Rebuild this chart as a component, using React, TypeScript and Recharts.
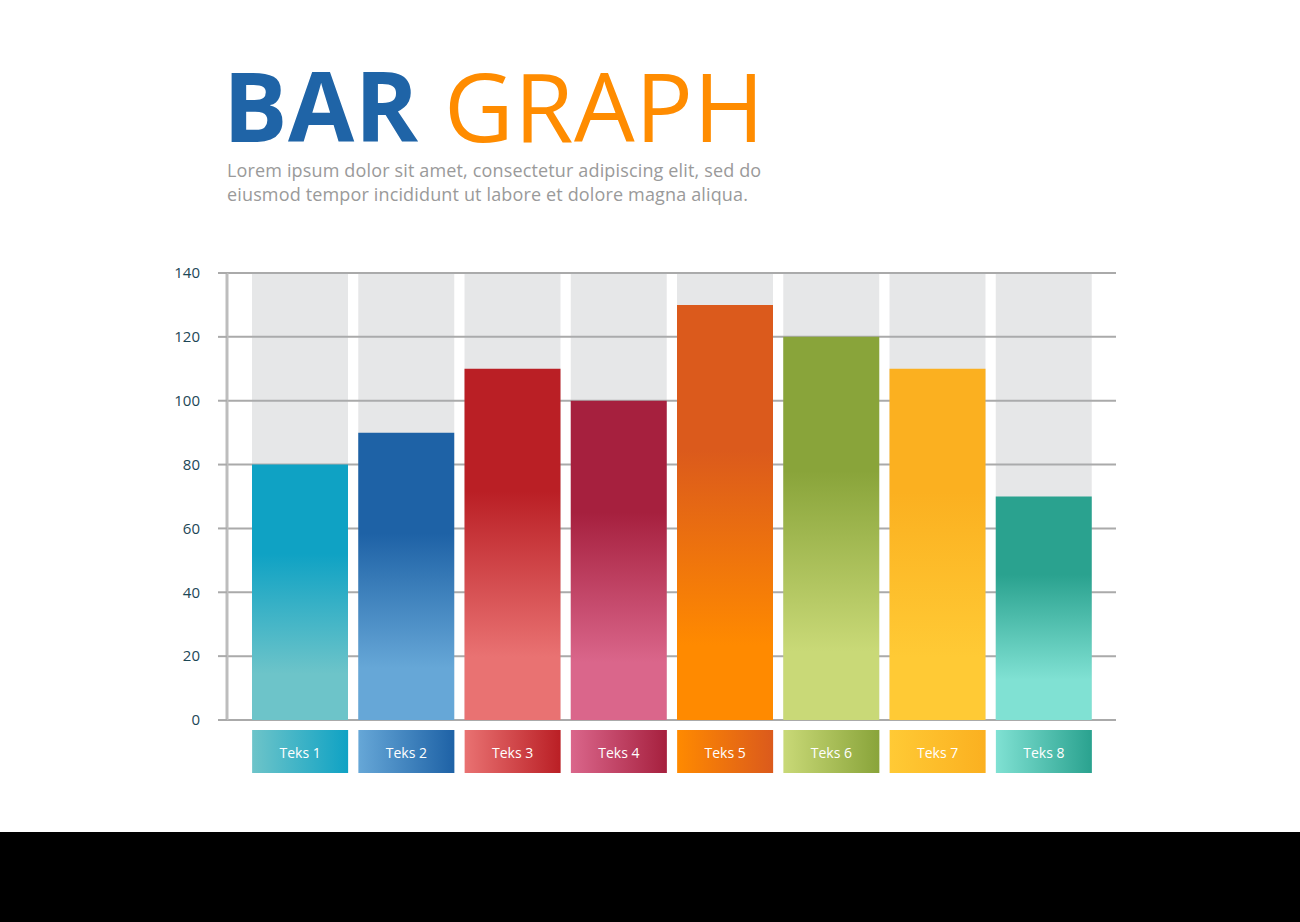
import React from 'react';
import { BarChart, Bar, XAxis, YAxis, CartesianGrid, Cell } from 'recharts';

const categories = ['Teks 1', 'Teks 2', 'Teks 3', 'Teks 4', 'Teks 5', 'Teks 6', 'Teks 7', 'Teks 8'];
const values = [80, 90, 110, 100, 130, 120, 110, 70];
const yTicks = [0, 20, 40, 60, 80, 100, 120, 140];
// top colour, bottom colour of each bar
const topColors = ['#0fa2c4', '#1e62a6', '#ba1f25', '#a6203e', '#db5a1c', '#89a43a', '#fbb020', '#2aa28f'];
const bottomColors = ['#6dc4c9', '#66a7d7', '#e97272', '#da668b', '#ff8a00', '#c9d977', '#ffca35', '#80e1d3'];

const chartData = categories.map((name, i) => ({ name, value: values[i] }));

const FONT = '"Open Sans", "Noto Sans", sans-serif';

const LabelTick = (props: any) => {
  const { x, y, payload, index } = props;
  const w = 96;
  return (
    <g>
      <rect x={x - w / 2} y={y + 10} width={w} height={43} fill={`url(#lbl${index})`} />
      <text x={x} y={y + 38} textAnchor="middle" fill="#ffffff" fontSize={14} fontFamily={FONT}>
        {payload.value}
      </text>
    </g>
  );
};

export default function App() {
  return (
    <div style={{ position: 'absolute', left: 0, top: 0, width: 1300, height: 922, background: '#ffffff', overflow: 'hidden' }}>
      <div style={{ position: 'absolute', left: 223, top: 55, height: 100, fontFamily: FONT, fontSize: 96, lineHeight: '100px', letterSpacing: 0.5, whiteSpace: 'nowrap' }}>
        <span style={{ display: 'inline-block', height: 100, color: '#1f64a7', fontWeight: 700 }}>BAR</span>{' '}
        <span style={{ display: 'inline-block', height: 100, color: '#ff8c00', fontWeight: 400 }}>GRAPH</span>
      </div>
      <div style={{ position: 'absolute', left: 227, top: 158, fontFamily: FONT, fontSize: 18, lineHeight: '24px', letterSpacing: 0.15, color: '#9a9a9a', whiteSpace: 'nowrap' }}>
        Lorem ipsum dolor sit amet, consectetur adipiscing elit, sed do
        <br />
        eiusmod tempor incididunt ut labore et dolore magna aliqua.
      </div>
      <div style={{ position: 'absolute', left: 0, top: 0 }}>
        <BarChart
          width={1300}
          height={800}
          data={chartData}
          margin={{ top: 273, right: 184, left: 167, bottom: 20 }}
          barSize={96}
        >
          <defs>
            {categories.map((c, i) => (
              <linearGradient key={`g${i}`} id={`bar${i}`} x1="0" y1="0" x2="0" y2="1">
                <stop offset="0%" stopColor={topColors[i]} />
                <stop offset="35%" stopColor={topColors[i]} />
                <stop offset="82%" stopColor={bottomColors[i]} />
                <stop offset="100%" stopColor={bottomColors[i]} />
              </linearGradient>
            ))}
            {categories.map((c, i) => (
              <linearGradient key={`l${i}`} id={`lbl${i}`} x1="0" y1="0" x2="1" y2="0">
                <stop offset="0%" stopColor={bottomColors[i]} />
                <stop offset="100%" stopColor={topColors[i]} />
              </linearGradient>
            ))}
          </defs>
          <CartesianGrid vertical={false} stroke="#aaaaaa" strokeWidth={2} />
          <XAxis
            dataKey="name"
            axisLine={false}
            tickLine={false}
            tickSize={0}
            tickMargin={0}
            height={60}
            padding={{ left: 20, right: 19 }}
            interval={0}
            tick={<LabelTick />}
          />
          <YAxis
            domain={[0, 140]}
            ticks={yTicks}
            width={60}
            axisLine={{ stroke: '#bdbdbd', strokeWidth: 3 }}
            tickLine={{ stroke: '#aaaaaa', strokeWidth: 2 }}
            tickSize={9}
            tickMargin={18}
            tick={{ fill: '#1c4756', fontSize: 15, fontFamily: FONT }}
          />
          <Bar
            dataKey="value"
            isAnimationActive={false}
            background={{ fill: '#acaeb3', fillOpacity: 0.3 }}
          >
            {chartData.map((d, i) => (
              <Cell key={d.name} fill={`url(#bar${i})`} />
            ))}
          </Bar>
        </BarChart>
      </div>
      <div style={{ position: 'absolute', left: 0, top: 832, width: 1300, height: 90, background: '#000000' }} />
    </div>
  );
}
